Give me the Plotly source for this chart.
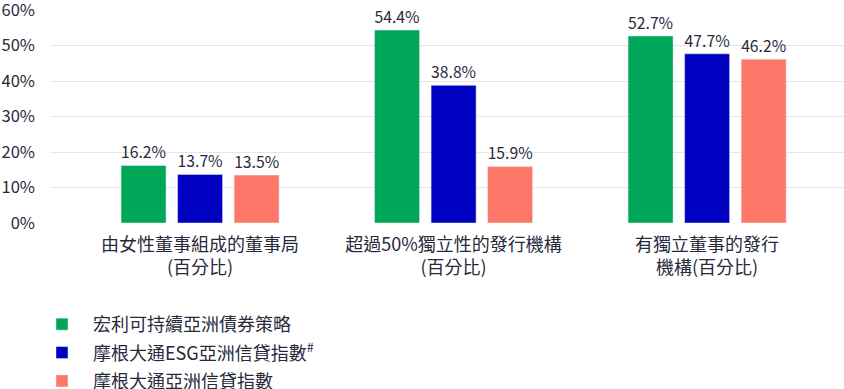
import plotly.graph_objects as go

categories = [
    "由女性董事組成的董事局<br>(百分比)",
    "超過50%獨立性的發行機構<br>(百分比)",
    "有獨立董事的發行<br>機構(百分比)",
]
series_names = ["宏利可持續亞洲債券策略", "摩根大通ESG亞洲信貸指數<sup>#</sup>", "摩根大通亞洲信貸指數"]
series_values = [
    [16.2, 54.4, 52.7],
    [13.7, 38.8, 47.7],
    [13.5, 15.9, 46.2],
]
colors = ["#00A758", "#0000C1", "#FF7769"]
y_ticks = [0, 10, 20, 30, 40, 50, 60]

FONT = "Noto Sans CJK TC, Noto Sans, sans-serif"
TXT = "#282a3c"

fig = go.Figure()
for i, (name, vals, col) in enumerate(zip(series_names, series_values, colors)):
    fig.add_trace(go.Bar(
        x=categories, y=vals, name=name, marker_color=col,
        text=[f"{v:.1f}%" for v in vals], textposition="outside",
        textfont=dict(size=19, color=TXT, family=FONT),
        cliponaxis=False, legendgroup=f"g{i}",
    ))

fig.update_layout(
    width=844, height=389,
    margin=dict(l=50, r=0, t=10, b=166, autoexpand=False),
    plot_bgcolor="white", paper_bgcolor="white",
    font=dict(family=FONT, color=TXT),
    barmode="group", bargap=0.331, bargroupgap=0.204,
    showlegend=True,
    legend=dict(
        orientation="v", xref="container", yref="container",
        x=0.0367, y=0.2135, xanchor="left", yanchor="top",
        font=dict(size=18, color=TXT, family=FONT),
        traceorder="grouped", tracegroupgap=2, itemwidth=52,
        bgcolor="rgba(0,0,0,0)",
    ),
    xaxis=dict(
        type="category", range=[-0.592, 2.540], showgrid=False, showline=False,
        zeroline=False, ticks="", tickfont=dict(size=18, color=TXT, family=FONT),
        ticklabelstandoff=9, automargin=False,
    ),
    yaxis=dict(
        range=[0, 60.05], tickvals=y_ticks, ticktext=[f"{v}%" for v in y_ticks],
        showgrid=True, gridcolor="#e6e6e6", gridwidth=1, zeroline=False,
        showline=False, ticks="", tickfont=dict(size=16.5, color=TXT, family=FONT),
        ticklabelstandoff=14, automargin=False, ticklabeloverflow="allow",
    ),
)

fig.write_html("out.html", config={"displayModeBar": False},
               post_script="document.body.style.margin='0';")
